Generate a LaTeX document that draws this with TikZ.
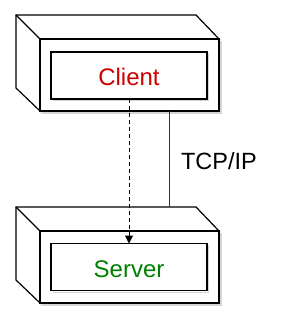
\documentclass[tikz,border=0pt]{standalone}
\usepackage{fontspec}
\setmainfont{Liberation Sans}
\usetikzlibrary{arrows.meta}
\definecolor{clientred}{HTML}{CC0000}
\definecolor{servergreen}{HTML}{008000}
\definecolor{shadowgray}{HTML}{D4D4D4}
\begin{document}
\begin{tikzpicture}[x=1pt,y=-1pt,
  line width=1.2pt, line join=miter,
  cubeface/.style={draw=black, fill=white, minimum width=179pt, minimum height=72pt, inner sep=0pt, outer sep=0pt},
  innerbox/.style={draw=black, fill=white, minimum width=156pt, minimum height=47pt, inner sep=0pt, outer sep=0pt, font=\fontsize{24}{28}\selectfont, text height=20.5pt, text depth=0pt},
  cubeback/.style={draw=black, fill=white},
  shadowline/.style={draw=shadowgray, line width=1.2pt},
  lbl/.style={font=\fontsize{23.5}{28}\selectfont, inner sep=0pt}
]
\useasboundingbox (0,0) rectangle (284,320);
% ---- Client cube
\draw[shadowline] (221,41) -- (221,113) -- (42,113);
\draw[cubeback] (16,15) -- (196,15) -- (219,39) -- (40,39) -- (40,111) -- (16,88) -- cycle;
\draw (16,15) -- (40,39);
\node[cubeface] (clientbox) at (129.5,75) {};
\draw[shadowline] (208.5,53.5) -- (208.5,100.5) -- (52.5,100.5);
\node[innerbox, text=clientred] (client) at (129,75.5) {Client};
% ---- Server cube
\draw[shadowline] (221,233) -- (221,305) -- (42,305);
\draw[cubeback] (16,207) -- (196,207) -- (219,231) -- (40,231) -- (40,303) -- (16,280) -- cycle;
\draw (16,207) -- (40,231);
\node[cubeface] (serverbox) at (129.5,267) {};
\draw[shadowline] (208.5,244.5) -- (208.5,292.5) -- (52.5,292.5);
\node[innerbox, text=servergreen] (server) at (129,267) {Server};
% ---- connectors
\coordinate (clientlink) at (169,111);
\coordinate (serverlink) at (169,207);
\draw[line width=1pt, draw=black!80] (clientlink) -- (serverlink);
\draw[line width=1pt, dashed, dash pattern=on 4pt off 3pt, -{Triangle[length=8pt,width=8pt]}] (client.south) -- (server.north);
\node[lbl] (tcp) at (219,161) {TCP/IP};
\end{tikzpicture}
\end{document}
